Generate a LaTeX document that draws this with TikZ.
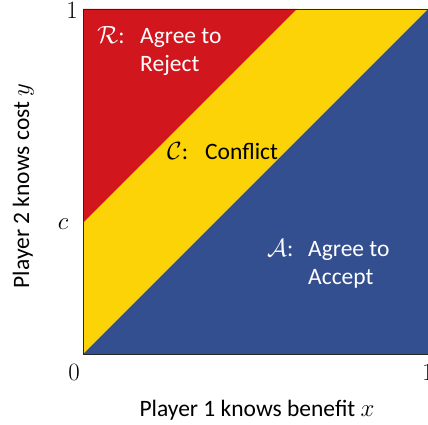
\documentclass[tikz,border=0pt]{standalone}
\usepackage[no-math]{fontspec}
\setmainfont{Carlito}
\definecolor{rred}{RGB}{210,22,30}
\definecolor{cyel}{RGB}{252,211,6}
\definecolor{ablue}{RGB}{52,79,143}
\begin{document}
\begin{tikzpicture}[x=1pt,y=1pt,
  lbl/.style={inner sep=0pt,anchor=base west,font=\fontsize{23.5}{28}\selectfont},
  tick/.style={inner sep=0pt,font=\fontsize{26}{30}\selectfont},
  axl/.style={inner sep=0pt,font=\fontsize{23.5}{28}\selectfont}]
\useasboundingbox (0,0) rectangle (428,425);
% square corners
\coordinate (O) at (83,71);
\coordinate (TR) at (428,416);
\coordinate (TL) at (83,416);
\coordinate (BR) at (428,71);
\coordinate (Cl) at (83,202);
\coordinate (Ct) at (297,416);
% regions
\fill[ablue] (O) -- (BR) -- (TR) -- cycle;
\fill[cyel] (O) -- (TR) -- (Ct) -- (Cl) -- cycle;
\fill[rred] (Cl) -- (Ct) -- (TL) -- cycle;
\draw[black!85,line width=0.9pt] (O) rectangle (TR);
% region labels
\node[lbl,text=white] (rsym) at (97,381) {$\mathcal{R}$:};
\node[lbl,text=white] (rtxt) at (140,381) {Agree to};
\node[lbl,text=white] (rtxt2) at (140,353) {Reject};
\node[lbl,text=black] (csym) at (167,265) {$\mathcal{C}$:};
\node[lbl,text=black] (ctxt) at (205,265) {Conflict};
\node[lbl,text=white] (asym) at (267,168) {$\mathcal{A}$:};
\node[lbl,text=white] (atxt) at (308,168) {Agree to};
\node[lbl,text=white] (atxt2) at (308,140) {Accept};
% ticks
\node[tick,anchor=base] (t1) at (72,406) {$1$};
\node[tick,anchor=base] (tc) at (63,195) {$c$};
\node[tick,anchor=base] (t0) at (74,44) {$0$};
\node[tick,anchor=base west] (t1b) at (422,44) {$1$};
% axis labels
\node[axl,anchor=base] (xl) at (257,8) {Player 1 knows benefit $x$};
\node[axl,anchor=base,rotate=90] (yl) at (29,239) {Player 2 knows cost $y$};
\end{tikzpicture}
\end{document}
